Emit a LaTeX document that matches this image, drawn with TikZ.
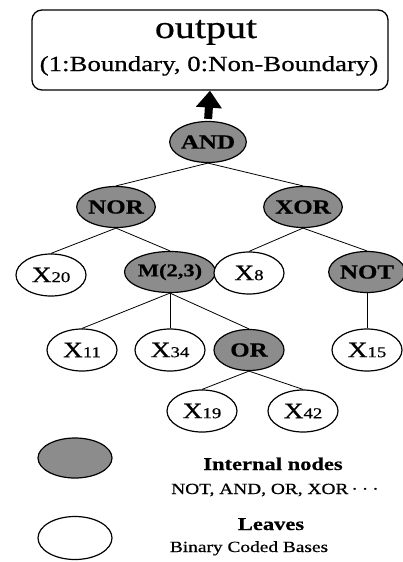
\documentclass[tikz,border=0pt]{standalone}
\usepackage{fontspec}
\setmainfont[FakeStretch=1.25,FakeBold=0.6]{Liberation Serif}
\usetikzlibrary{shapes.geometric,arrows.meta}
\definecolor{gatefill}{RGB}{140,140,140}
\newcommand\idx[1]{{\fontsize{15}{15}\selectfont#1}}
\begin{document}
\begin{tikzpicture}[x=1pt,y=-1pt,
  gate/.style={ellipse,draw,line width=1.2pt,fill=gatefill,minimum width=70pt,
    minimum height=41pt,inner sep=0pt,font=\fontsize{20}{20}\selectfont\bfseries},
  leaf/.style={ellipse,draw,line width=1.2pt,fill=white,minimum width=70pt,
    minimum height=42pt,inner sep=0pt,font=\fontsize{22}{22}\selectfont},
  link/.style={line width=0.8pt},
  legendhead/.style={anchor=base,font=\fontsize{18}{18}\selectfont\bfseries},
  legendtext/.style={anchor=base,font=\fontsize{15.5}{15.5}\selectfont}]
\useasboundingbox (0,0) rectangle (402,562);

% output box
\node[draw,rounded corners=10pt,line width=1.3pt,minimum width=356pt,
  minimum height=80pt,inner sep=0pt] (out) at (210,50) {};
\node[anchor=base,font=\fontsize{32}{32}\selectfont] (outtitle) at (206,38) {output};
\node[anchor=base,font=\fontsize{21.5}{21.5}\selectfont] (outsub) at (209,71)
  {(1:Boundary, 0:Non-Boundary)};

% tree
\node[gate] (and) at (208,142) {AND};
\node[gate] (nor) at (116,207) {NOR};
\node[gate] (xor) at (303,207) {XOR};
\node[leaf] (x20) at (51,275) {X\idx{20}};
\node[gate,font=\fontsize{18}{18}\selectfont\bfseries] (maj) at (170,272) {M(2,3)};
\node[leaf] (x8)  at (249,273) {X\idx{8}};
\node[gate] (not) at (367,272) {NOT};
\node[leaf] (x11) at (82,350) {X\idx{11}};
\node[leaf] (x34) at (170,350) {X\idx{34}};
\node[gate] (or)  at (249,350) {OR};
\node[leaf] (x15) at (367,350) {X\idx{15}};
\node[leaf] (x19) at (202,411) {X\idx{19}};
\node[leaf] (x42) at (303,411) {X\idx{42}};

\draw[line width=8pt,-{Triangle[width=25pt,length=17pt]},shorten <=2pt]
  (and.north) -- (out.south);

\draw[link] (and.south) -- (nor.north);
\draw[link] (and.south) -- (xor.north);
\draw[link] (nor.south) -- (x20.north);
\draw[link] (nor.south) -- (maj.north);
\draw[link] (xor.south) -- (x8.north);
\draw[link] (xor.south) -- (not.north);
\draw[link] (maj.south) -- (x11.north);
\draw[link] (maj.south) -- (x34.north);
\draw[link] (maj.south) -- (or.north);
\draw[link] (not.south) -- (x15.north);
\draw[link] (or.south) -- (x19.north);
\draw[link] (or.south) -- (x42.north);

% legend
\node[gate,minimum width=74pt,minimum height=40pt] (keygate) at (75,458) {};
\node[leaf,minimum width=74pt,minimum height=43pt] (keyleaf) at (75,538) {};
\node[legendhead] (keygatehead) at (273,470) {Internal nodes};
\node[legendtext] (keygatetext) at (275,494)
  {NOT, AND, OR, XOR\hspace{3pt}·\hspace{4pt}·\hspace{4pt}·};
\node[legendhead] (keyleafhead) at (271,530) {Leaves};
\node[legendtext] (keyleaftext) at (249,552) {Binary Coded Bases};
\end{tikzpicture}
\end{document}
